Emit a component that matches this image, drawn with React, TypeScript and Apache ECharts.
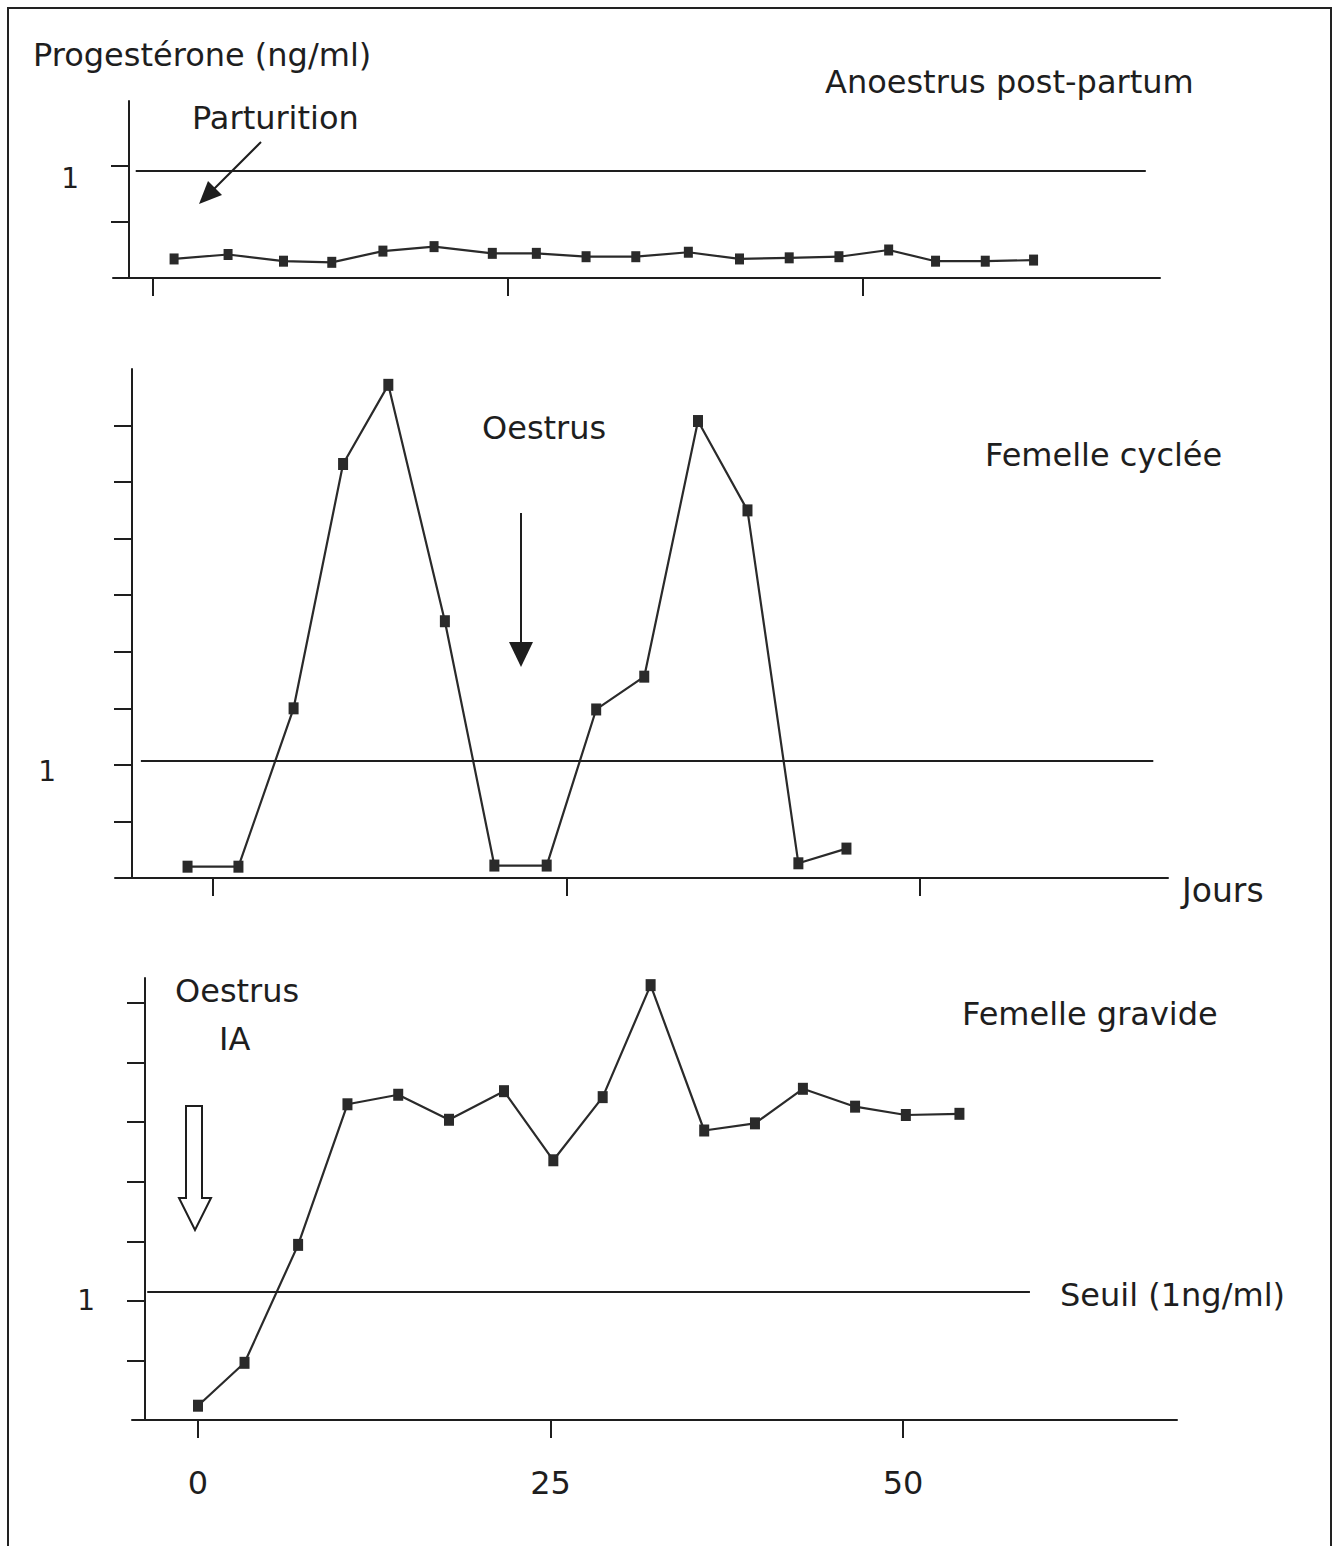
import React, { useEffect, useRef } from "react";
import * as echarts from "echarts";

// ---- Data (days after reference, progesterone ng/ml) ----
const topDays = [1.5, 5.3, 9.2, 12.6, 16.2, 19.8, 23.9, 27.0, 30.5, 34.0, 37.7, 41.3, 44.8, 48.3, 51.8, 55.1, 58.6, 62.0];
const topValues = [0.17, 0.21, 0.15, 0.14, 0.24, 0.28, 0.22, 0.22, 0.19, 0.19, 0.23, 0.17, 0.18, 0.19, 0.25, 0.15, 0.15, 0.16];

const midDays = [-1.8, 1.8, 5.7, 9.2, 12.4, 16.4, 19.9, 23.6, 27.1, 30.5, 34.3, 37.8, 41.4, 44.8];
const midValues = [0.1, 0.1, 1.5, 3.66, 4.36, 2.27, 0.11, 0.11, 1.49, 1.78, 4.04, 3.25, 0.13, 0.26];

const botDays = [0, 3.3, 7.1, 10.6, 14.2, 17.8, 21.7, 25.2, 28.7, 32.1, 35.9, 39.5, 42.9, 46.6, 50.2, 54.0];
const botValues = [0.12, 0.48, 1.47, 2.65, 2.73, 2.52, 2.76, 2.18, 2.71, 3.65, 2.43, 2.49, 2.78, 2.63, 2.56, 2.57];

const xTickValues = [0, 25, 50];
const topYTicks = [0.5, 1];
const midYTicks = [0.5, 1, 1.5, 2, 2.5, 3, 3.5, 4];
const botYTicks = [0.5, 1, 1.5, 2, 2.5, 3, 3.5];
const yLabelValues = [1];

// threshold (Seuil 1 ng/ml) as drawn in each panel, and its day extent
const thresholdLevels = [0.96, 1.04, 1.08];
const thresholdSpans = [
  [-1.2, 69.9],
  [-5.1, 66.5],
  [-3.6, 59.0],
];

const FONT = "'DejaVu Sans', sans-serif";
const INK = "#1e1e1e";
const LINE = "#2a2a2a";

const panels = [
  {
    days: topDays, values: topValues,
    grid: { left: 113, top: 101, width: 1047, height: 177 },
    xMin: -2.8, xMax: 70.9, yMax: 1.58, yTicks: topYTicks,
    yOffset: -16, yLabelMargin: 50, yLabelShift: 13, showX: false, sym: [9, 11],
  },
  {
    days: midDays, values: midValues,
    grid: { left: 115, top: 369, width: 1053, height: 509 },
    xMin: -6.93, xMax: 67.54, yMax: 4.5, yTicks: midYTicks,
    yOffset: -17, yLabelMargin: 76, yLabelShift: 7, showX: false, sym: [10, 12],
  },
  {
    days: botDays, values: botValues,
    grid: { left: 132, top: 978, width: 1045, height: 442 },
    xMin: -4.68, xMax: 69.43, yMax: 3.71, yTicks: botYTicks,
    yOffset: -13, yLabelMargin: 50, yLabelShift: 0, showX: true, sym: [10, 12],
  },
];

function txt(text: string, x: number, y: number, size = 32) {
  return {
    type: "text",
    x,
    y,
    silent: true,
    style: {
      text,
      fontSize: size,
      fontFamily: FONT,
      fill: INK,
      align: "left",
      verticalAlign: "middle",
    },
  };
}

export default function App() {
  const ref = useRef<HTMLDivElement>(null);

  useEffect(() => {
    document.body.style.margin = "0";
    const chart = echarts.init(ref.current!, null, { renderer: "svg" });

    const axisLine = { color: INK, width: 2 };

    const option: any = {
      animation: false,
      backgroundColor: "#ffffff",
      grid: panels.map((p) => ({
        ...p.grid,
        containLabel: false,
        outerBoundsMode: "none",
      })),
      xAxis: panels.map((p, i) => ({
        type: "value",
        gridIndex: i,
        min: p.xMin,
        max: p.xMax,
        axisLine: { show: true, onZero: false, lineStyle: axisLine },
        axisTick: { show: true, customValues: xTickValues, length: 18, lineStyle: axisLine },
        axisLabel: {
          show: p.showX,
          customValues: xTickValues,
          fontSize: 32,
          fontFamily: FONT,
          color: INK,
          margin: 47,
        },
        splitLine: { show: false },
      })),
      yAxis: panels.map((p, i) => ({
        type: "value",
        gridIndex: i,
        min: 0,
        max: p.yMax,
        offset: p.yOffset,
        axisLine: { show: true, onZero: false, lineStyle: axisLine },
        axisTick: { show: true, customValues: p.yTicks, length: 18, lineStyle: axisLine },
        axisLabel: {
          show: true,
          customValues: yLabelValues,
          fontSize: 28,
          fontFamily: FONT,
          color: INK,
          margin: p.yLabelMargin,
          formatter: (v: number) => "{v|" + String(v) + "}",
          rich: {
            v: {
              fontSize: 28,
              fontFamily: FONT,
              color: INK,
              lineHeight: 28 + 2 * p.yLabelShift,
              verticalAlign: "bottom",
            },
          },
        },
        splitLine: { show: false },
      })),
      series: panels.map((p, i) => ({
        type: "line",
        xAxisIndex: i,
        yAxisIndex: i,
        data: p.days.map((d, k) => [d, p.values[k]]),
        symbol: "rect",
        symbolSize: p.sym,
        showSymbol: true,
        itemStyle: { color: LINE },
        lineStyle: { color: LINE, width: 2.2 },
        markLine: {
          silent: true,
          symbol: ["none", "none"],
          label: { show: false },
          lineStyle: { color: INK, width: 2, type: "solid" },
          data: [
            [
              { coord: [thresholdSpans[i][0], thresholdLevels[i]] },
              { coord: [thresholdSpans[i][1], thresholdLevels[i]] },
            ],
          ],
        },
      })),
      graphic: [
        {
          type: "rect",
          silent: true,
          shape: { x: 8, y: 8, width: 1323, height: 1560 },
          style: { fill: "none", stroke: "#222", lineWidth: 2 },
        },
        txt("Progestérone (ng/ml)", 33, 55),
        txt("Parturition", 192, 118),
        txt("Anoestrus post-partum", 825, 82),
        txt("Oestrus", 482, 428),
        txt("Femelle cyclée", 985, 455),
        txt("Jours", 1182, 890, 33),
        txt("Oestrus", 175, 991),
        txt("IA", 219, 1039),
        txt("Femelle gravide", 962, 1014),
        txt("Seuil (1ng/ml)", 1060, 1295),
        // Parturition arrow
        {
          type: "line",
          silent: true,
          shape: { x1: 261, y1: 142, x2: 214, y2: 189 },
          style: { stroke: INK, lineWidth: 2 },
        },
        {
          type: "polygon",
          silent: true,
          shape: { points: [[199, 204], [222, 195], [208, 181]] },
          style: { fill: INK },
        },
        // Oestrus arrow (middle panel)
        {
          type: "line",
          silent: true,
          shape: { x1: 521, y1: 513, x2: 521, y2: 645 },
          style: { stroke: INK, lineWidth: 2 },
        },
        {
          type: "polygon",
          silent: true,
          shape: { points: [[509, 642], [533, 642], [521, 667]] },
          style: { fill: INK },
        },
        // hollow arrow (bottom panel)
        {
          type: "polygon",
          silent: true,
          shape: {
            points: [
              [186, 1106], [202, 1106], [202, 1198], [211, 1198],
              [195, 1230], [179, 1198], [186, 1198],
            ],
          },
          style: { fill: "#ffffff", stroke: INK, lineWidth: 2 },
        },
      ],
    };

    chart.setOption(option);
    return () => chart.dispose();
  }, []);

  return (
    <div
      ref={ref}
      style={{ position: "absolute", left: 0, top: 0, width: 1333, height: 1546, background: "#fff" }}
    />
  );
}
